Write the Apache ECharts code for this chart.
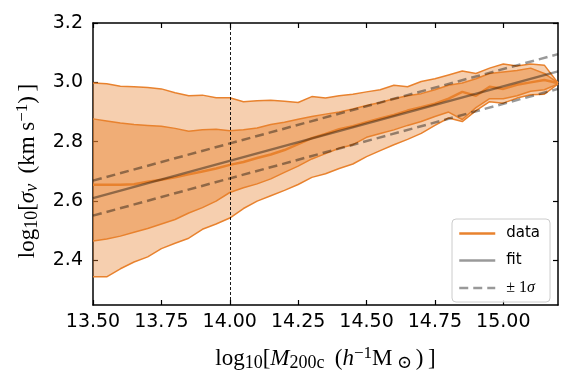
<!DOCTYPE html>
<html>
<head>
<meta charset="utf-8">
<script src="https://cdn.jsdelivr.net/npm/echarts@6/dist/echarts.min.js"></script>
<style>
  html, body { margin: 0; padding: 0; background: #fff; }
  #chart { width: 573px; height: 386px; }
</style>
</head>
<body>
<div id="chart"></div>
<script>
// mass bins (log10 M200c)
const massBins = [13.50, 13.55, 13.60, 13.65, 13.70, 13.75, 13.80, 13.85, 13.90, 13.95,
  14.00, 14.05, 14.10, 14.15, 14.20, 14.25, 14.30, 14.35, 14.40, 14.45,
  14.50, 14.55, 14.60, 14.65, 14.70, 14.75, 14.80, 14.85, 14.90, 14.95,
  15.00, 15.05, 15.10, 15.15, 15.20];

// percentiles of log10 sigma_v in each bin
const outerHi = [2.998, 2.995, 2.987, 2.985, 2.983, 2.978, 2.965, 2.955, 2.957, 2.948,
  2.948, 2.935, 2.938, 2.940, 2.936, 2.932, 2.952, 2.947, 2.955, 2.960,
  2.968, 2.975, 2.990, 2.985, 3.003, 3.012, 3.025, 3.038, 3.030, 3.048,
  3.062, 3.055, 3.062, 3.058, 2.998];
const innerHi = [2.877, 2.870, 2.863, 2.858, 2.855, 2.852, 2.845, 2.835, 2.840, 2.842,
  2.837, 2.840, 2.846, 2.858, 2.866, 2.876, 2.885, 2.893, 2.900, 2.910,
  2.922, 2.932, 2.945, 2.955, 2.962, 2.975, 2.990, 2.998, 3.012, 3.030,
  3.035, 3.040, 3.048, 3.030, 2.998];
const median = [2.655, 2.655, 2.655, 2.657, 2.665, 2.672, 2.680, 2.690, 2.700, 2.710,
  2.722, 2.732, 2.745, 2.757, 2.772, 2.792, 2.812, 2.826, 2.842, 2.852,
  2.866, 2.878, 2.890, 2.905, 2.916, 2.928, 2.945, 2.968, 2.955, 2.985,
  2.978, 2.992, 3.000, 3.008, 2.998];
const innerLo = [2.466, 2.472, 2.482, 2.495, 2.508, 2.523, 2.538, 2.560, 2.578, 2.600,
  2.629, 2.645, 2.658, 2.675, 2.697, 2.718, 2.742, 2.760, 2.778, 2.790,
  2.815, 2.828, 2.840, 2.855, 2.868, 2.885, 2.900, 2.875, 2.915, 2.945,
  2.945, 2.955, 2.970, 2.975, 2.995];
const outerLo = [2.345, 2.345, 2.372, 2.395, 2.412, 2.440, 2.458, 2.475, 2.505, 2.523,
  2.543, 2.575, 2.600, 2.618, 2.636, 2.656, 2.680, 2.692, 2.710, 2.725,
  2.750, 2.770, 2.790, 2.808, 2.828, 2.855, 2.880, 2.868, 2.905, 2.935,
  2.930, 2.947, 2.958, 2.960, 2.995];

// power-law fit and its scatter
const fitMass = [13.5, 15.2];
const fitSigma = [2.610, 3.037];
const fitUpper = [2.669, 3.095];
const fitLower = [2.551, 2.978];

const xTicks = [13.5, 13.75, 14.0, 14.25, 14.5, 14.75, 15.0];
const yTicks = [2.4, 2.6, 2.8, 3.0, 3.2];
const pivotMass = 14.0;

const ORANGE = '#e8822e';
const GREY = 'rgba(0,0,0,0.4)';
const serif = 'Liberation Serif, DejaVu Serif, serif';
const sans = 'DejaVu Sans, sans-serif';

const pairs = (xs, ys) => xs.map((x, i) => [x, ys[i]]);

function band(lo, hi, fill) {
  return {
    type: 'custom', silent: true, z: 1,
    data: [[massBins[0], lo[0]]],
    renderItem: (params, api) => {
      const pts = [];
      massBins.forEach((x, i) => pts.push(api.coord([x, hi[i]])));
      for (let i = massBins.length - 1; i >= 0; i--) pts.push(api.coord([massBins[i], lo[i]]));
      return { type: 'polygon', shape: { points: pts }, style: { fill: fill } };
    }
  };
}

function edge(ys) {
  return {
    type: 'line', data: pairs(massBins, ys), symbol: 'none', silent: true, z: 3,
    lineStyle: { color: ORANGE, width: 1.5 }
  };
}

// mathtext-like pieces for the axis titles
const mathRich = {
  r: { fontFamily: serif, fontSize: 23, color: '#000', lineHeight: 27 },
  i: { fontFamily: serif, fontSize: 23, fontStyle: 'italic', color: '#000', lineHeight: 27 },
  sub: { fontFamily: serif, fontSize: 18, color: '#000', lineHeight: 12, verticalAlign: 'bottom' },
  isub: { fontFamily: serif, fontSize: 18, fontStyle: 'italic', color: '#000', lineHeight: 12, verticalAlign: 'bottom' },
  sup: { fontFamily: serif, fontSize: 17, color: '#000', lineHeight: 18, verticalAlign: 'top' }
};
const TS = '\u2009';

const chart = echarts.init(document.getElementById('chart'), null, { renderer: 'canvas' });

const baseX = {
  type: 'value', min: 13.5, max: 15.2,
  axisLine: { lineStyle: { color: '#000', width: 1.5 } },
  axisTick: { inside: true, length: 5, customValues: xTicks, lineStyle: { color: '#000', width: 1.2 } },
  splitLine: { show: false }
};
const baseY = {
  type: 'value', min: 2.25, max: 3.2,
  axisLine: { lineStyle: { color: '#000', width: 1.5 } },
  axisTick: { inside: true, length: 5, customValues: yTicks, lineStyle: { color: '#000', width: 1.2 } },
  splitLine: { show: false }
};

chart.setOption({
  animation: false,
  backgroundColor: '#fff',
  grid: { left: 93, right: 15, top: 23, bottom: 81 },
  xAxis: [
    Object.assign({}, baseX, {
      position: 'bottom',
      axisLabel: { customValues: xTicks, fontFamily: sans, fontSize: 19, color: '#000', margin: 8,
        formatter: v => v.toFixed(2) },
      name: '{r|log}{sub|10}{r|[}{i|M}{sub|200c}{r| ' + TS + '(}{i|h}{sup|−1}{r|M' + TS + '}{sub|⊙' + TS + '}{r|)' + TS + ']}',
      nameLocation: 'middle', nameGap: 40,
      nameTextStyle: { rich: mathRich }
    }),
    Object.assign({}, baseX, { position: 'top', axisLabel: { show: false } })
  ],
  yAxis: [
    Object.assign({}, baseY, {
      position: 'left',
      axisLabel: { customValues: yTicks, fontFamily: sans, fontSize: 19, color: '#000', margin: 10,
        formatter: v => v.toFixed(1) },
      name: '{r|log}{sub|10}{r|[}{i|σ}{isub|v}{r| ' + TS + '(km s}{sup|−1}{r|)' + TS + ']}',
      nameLocation: 'middle', nameGap: 52, nameRotate: 90,
      nameTextStyle: { rich: mathRich, padding: [0, 14, 0, 0] }
    }),
    Object.assign({}, baseY, { position: 'right', axisLabel: { show: false } })
  ],
  legend: {
    data: ['data', 'fit', '± 1σ'],
    orient: 'vertical', left: 452, top: 219,
    itemWidth: 36, itemHeight: 12, itemGap: 12,
    itemStyle: { opacity: 0 },
    lineStyle: { width: 2.5 },
    padding: [7, 10, 6, 6],
    borderColor: '#ccc', borderWidth: 1, borderRadius: 4,
    backgroundColor: 'rgba(255,255,255,0.85)',
    textStyle: { fontFamily: sans, fontSize: 15, color: '#000', padding: [0, 0, 0, 6],
      rich: {
        r: { fontFamily: serif, fontSize: 16, color: '#000' },
        i: { fontFamily: serif, fontSize: 16, fontStyle: 'italic', color: '#000' }
      } },
    formatter: name => name === '± 1σ' ? '{r|± 1}{i|σ}' : name
  },
  series: [
    band(outerLo, outerHi, 'rgba(232,130,46,0.38)'),
    band(innerLo, innerHi, 'rgba(232,130,46,0.44)'),
    edge(outerLo), edge(outerHi), edge(innerLo), edge(innerHi),
    {
      name: 'data', type: 'line', data: pairs(massBins, median), symbol: 'none', z: 4,
      lineStyle: { color: ORANGE, width: 2.5 }, itemStyle: { color: ORANGE },
      markLine: {
        silent: true, symbol: ['none', 'none'], label: { show: false },
        lineStyle: { color: '#000', width: 0.9, type: [3, 2] },
        data: [{ xAxis: pivotMass }]
      }
    },
    {
      name: 'fit', type: 'line', data: pairs(fitMass, fitSigma), symbol: 'none', z: 5,
      lineStyle: { color: GREY, width: 2.5 }, itemStyle: { color: GREY }
    },
    {
      name: '± 1σ', type: 'line', data: pairs(fitMass, fitUpper), symbol: 'none', z: 5,
      lineStyle: { color: GREY, width: 2.5, type: [9, 5] }, itemStyle: { color: GREY }
    },
    {
      name: '± 1σ', type: 'line', data: pairs(fitMass, fitLower), symbol: 'none', z: 5,
      lineStyle: { color: GREY, width: 2.5, type: [9, 5] }, itemStyle: { color: GREY }
    }
  ]
});
</script>
</body>
</html>
